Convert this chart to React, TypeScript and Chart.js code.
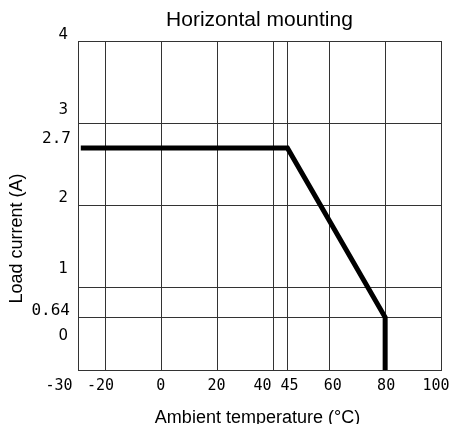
import React, { useEffect, useRef } from 'react';
import { Chart, registerables } from 'chart.js';

Chart.register(...registerables);

// ---- data ----
const TITLE = 'Horizontal mounting';
const X_TITLE = 'Ambient temperature (°C)';
const Y_TITLE = 'Load current (A)';

const X_TICKS = [-30, -20, 0, 20, 40, 45, 60, 80, 100];
const X_TICK_LABELS = ['-30', '-20', '0', '20', '40', '45', '60', '80', '100'];
const Y_TICKS = [0, 0.64, 1, 2, 2.7, 3, 4];
const Y_TICK_LABELS = ['0', '0.64', '1', '2', '2.7', '3', '4'];
const Y_NO_GRID = [2.7];

const TEMPERATURE = [-29, 45, 80, 80];
const LOAD_CURRENT = [2.7, 2.7, 0.64, 0];

// ---- layout (pixels) ----
const X_LABEL_DX = [-19, -5.5, -1, -1, -11, 2, 3.5, 1, -5];
const Y_LABEL_DX = [0, 2, 0, 0, 3, 0, 0];
const Y_LABEL_DY = [-34, -7, -19, -7.5, -9, -13, -6];

const SANS = "'Liberation Sans', Arial, sans-serif";
const DEJAVU = "'DejaVu Sans', sans-serif";
const MONO = "'DejaVu Sans Mono', monospace";

function shiftTitle(scale: any, dx: number, dy: number) {
  if (scale.__titlePatched) return;
  const orig = scale.drawTitle;
  scale.drawTitle = function () {
    const ctx = this.ctx;
    ctx.save();
    ctx.translate(dx, dy);
    orig.call(this);
    ctx.restore();
  };
  scale.__titlePatched = true;
}

const labelNudge = {
  id: 'labelNudge',
  beforeDraw(chart: any) {
    const apply = (scale: any, dx: number[], dy: number[]) => {
      const items = scale.getLabelItems(chart.chartArea);
      items.forEach((it: any, i: number) => {
        if (it.__nudged) return;
        const t = it.options.translation;
        it.options.translation = [t[0] + (dx[i] || 0), t[1] + (dy[i] || 0)];
        it.__nudged = true;
      });
    };
    apply(chart.scales.x, X_LABEL_DX, []);
    apply(chart.scales.y, Y_LABEL_DX, Y_LABEL_DY);
  },
};

export default function App() {
  const ref = useRef<HTMLCanvasElement>(null);

  useEffect(() => {
    const canvas = ref.current!;
    const chart = new Chart(canvas, {
      type: 'line',
      data: {
        datasets: [
          {
            data: TEMPERATURE.map((x, i) => ({ x, y: LOAD_CURRENT[i] })),
            borderColor: '#000',
            borderWidth: 5,
            pointRadius: 0,
            tension: 0,
            fill: false,
            borderJoinStyle: 'miter',
            borderCapStyle: 'butt',
          },
        ],
      },
      options: {
        responsive: false,
        animation: false,
        layout: { padding: { left: 0, top: 0, bottom: 0, right: 8 } },
        plugins: {
          legend: { display: false },
          tooltip: { enabled: false },
          title: {
            display: true,
            text: TITLE,
            fullSize: false,
            color: '#000',
            font: { family: SANS, size: 21, weight: 'normal', lineHeight: 1.2 },
            padding: { top: 7.4, bottom: 8.4 },
          },
        },
        scales: {
          x: {
            type: 'linear',
            min: -30,
            max: 100,
            afterBuildTicks: (s: any) => {
              s.ticks = X_TICKS.map((v) => ({ value: v }));
            },
            afterFit: (s: any) => {
              s.height = 54;
              s.paddingLeft = 0;
              s.paddingRight = 0;
              shiftTitle(s, -2, 0);
            },
            grid: { color: '#333', lineWidth: 1, drawTicks: false },
            border: { color: '#333', width: 1 },
            ticks: {
              autoSkip: false,
              maxRotation: 0,
              minRotation: 0,
              padding: 7,
              color: '#000',
              font: { family: MONO, size: 15 },
              callback: (_v: any, i: number) => X_TICK_LABELS[i],
            },
            title: {
              display: true,
              text: X_TITLE,
              color: '#000',
              font: { family: SANS, size: 18, lineHeight: 1 },
              padding: { top: 0, bottom: -3 },
            },
          },
          y: {
            type: 'linear',
            min: 0,
            max: 4,
            afterBuildTicks: (s: any) => {
              s.ticks = Y_TICKS.map((v) => ({ value: v }));
            },
            afterFit: (s: any) => {
              s.width = 78;
              s.paddingTop = 0;
              s.paddingBottom = 0;
              shiftTitle(s, 0, 33);
            },
            grid: {
              color: (ctx: any) =>
                ctx.tick && Y_NO_GRID.includes(ctx.tick.value) ? 'rgba(0,0,0,0)' : '#333',
              lineWidth: 1,
              drawTicks: false,
            },
            border: { color: '#333', width: 1 },
            ticks: {
              autoSkip: false,
              padding: 10,
              color: '#000',
              font: (ctx: any) => {
                const lbl = Y_TICK_LABELS[ctx.index] || '';
                return lbl.includes('.')
                  ? { family: MONO, size: 16 }
                  : { family: DEJAVU, size: 15 };
              },
              callback: (_v: any, i: number) => Y_TICK_LABELS[i],
            },
            title: {
              display: true,
              text: Y_TITLE,
              color: '#000',
              font: { family: SANS, size: 18, lineHeight: 1.2 },
              padding: { top: 6, bottom: 0 },
            },
          },
        },
      },
      plugins: [labelNudge],
    } as any);
    return () => chart.destroy();
  }, []);

  return (
    <canvas
      ref={ref}
      width={449}
      height={424}
      style={{ position: 'fixed', left: 0, top: 0, display: 'block' }}
    />
  );
}
